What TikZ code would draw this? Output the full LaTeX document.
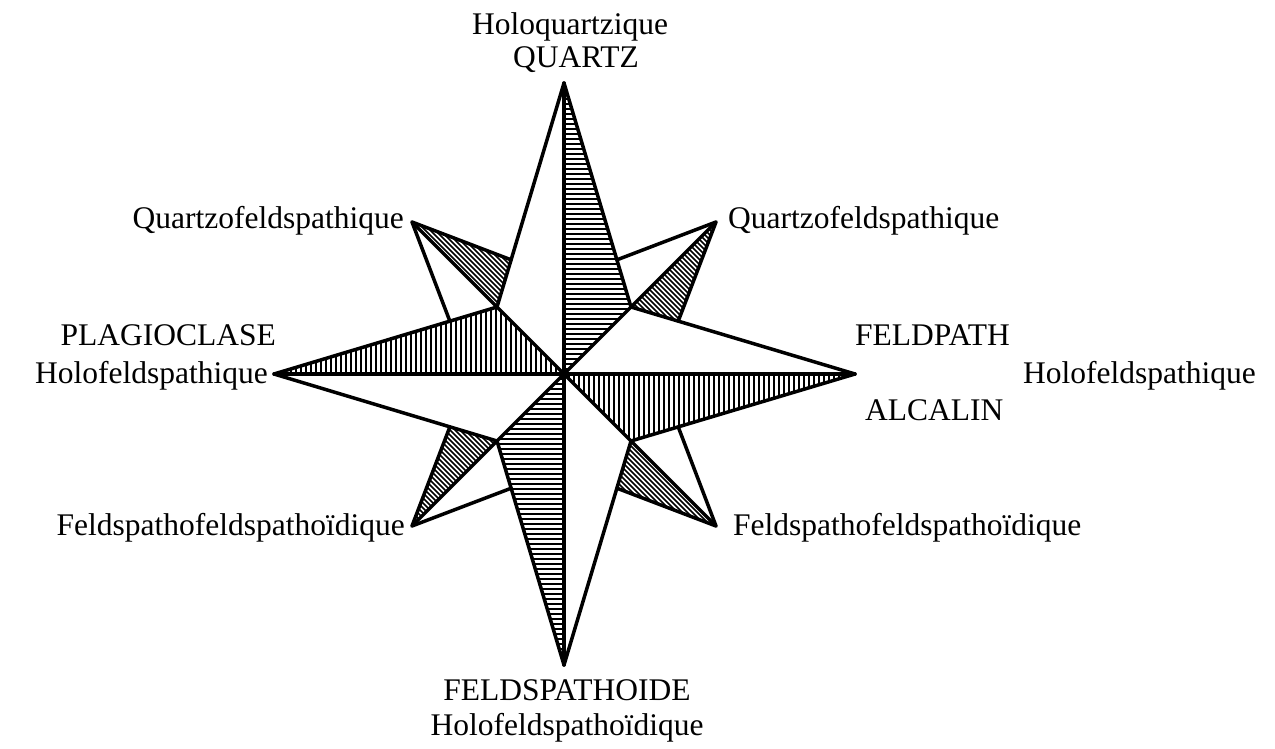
\documentclass[tikz,border=0pt]{standalone}
\usepackage{fontspec}
\setmainfont{Liberation Serif}
\begin{document}
\begin{tikzpicture}[x=1pt,y=-1pt,
  edge/.style={line width=3.5pt, line join=round, line cap=round},
  hatch/.style={line width=1.6pt},
  lbl/.style={font=\fontsize{31.5}{34}\selectfont, inner sep=0pt}]
\useasboundingbox (0,0) rectangle (1275,749);
\fill[white] (0,0) rectangle (1275,749);
% main points
\coordinate (C) at (564,374);
\coordinate (T) at (564,83);
\coordinate (B) at (564,665);
\coordinate (L) at (274,374);
\coordinate (R) at (855,374);
\coordinate (NE) at (716,222);
\coordinate (NW) at (412,222);
\coordinate (SW) at (412,526);
\coordinate (SE) at (716,526);
\coordinate (NEi) at (631,307);
\coordinate (NWi) at (497,307);
\coordinate (SWi) at (497,441);
\coordinate (SEi) at (631,441);
% hidden inner vertices of the diagonal star
\coordinate (H1) at (564,280);
\coordinate (H2) at (658,374);
\coordinate (H3) at (564,468);
\coordinate (H4) at (470,374);
\coordinate (nwA) at (intersection of NW--H1 and T--NWi);
\coordinate (nwB) at (intersection of NW--H4 and L--NWi);
\coordinate (neA) at (intersection of NE--H1 and T--NEi);
\coordinate (neB) at (intersection of NE--H2 and R--NEi);
\coordinate (seA) at (intersection of SE--H2 and R--SEi);
\coordinate (seB) at (intersection of SE--H3 and B--SEi);
\coordinate (swA) at (intersection of SW--H3 and B--SWi);
\coordinate (swB) at (intersection of SW--H4 and L--SWi);
% hatching: main spikes
\begin{scope}
  \clip (T) -- (C) -- (NEi) -- cycle;
  \foreach \y in {84,89,...,374} \draw[hatch] (560,\y) -- (640,\y);
\end{scope}
\begin{scope}
  \clip (B) -- (C) -- (SWi) -- cycle;
  \foreach \y in {374,379,...,665} \draw[hatch] (490,\y) -- (570,\y);
\end{scope}
\begin{scope}
  \clip (L) -- (NWi) -- (C) -- cycle;
  \foreach \x in {276,281,...,564} \draw[hatch] (\x,300) -- (\x,380);
\end{scope}
\begin{scope}
  \clip (R) -- (C) -- (SEi) -- cycle;
  \foreach \x in {564,569,...,855} \draw[hatch] (\x,368) -- (\x,448);
\end{scope}
% hatching: diagonal spikes
\begin{scope}
  \clip (NW) -- (nwA) -- (NWi) -- cycle;
  \foreach \c in {180,185,...,260} \draw[hatch] (200+\c,200) -- (330+\c,330);
\end{scope}
\begin{scope}
  \clip (NE) -- (NEi) -- (neB) -- cycle;
  \foreach \c in {320,325,...,500} \draw[hatch] (200+\c,200) -- (330+\c,330);
\end{scope}
\begin{scope}
  \clip (SE) -- (SEi) -- (seB) -- cycle;
  \foreach \c in {115,120,...,200} \draw[hatch] (420+\c,420) -- (540+\c,540);
\end{scope}
\begin{scope}
  \clip (SW) -- (SWi) -- (swB) -- cycle;
  \foreach \c in {-120,-115,...,60} \draw[hatch] (420+\c,420) -- (540+\c,540);
\end{scope}
% outlines
\draw[edge] (T) -- (NEi) -- (R) -- (SEi) -- (B) -- (SWi) -- (L) -- (NWi) -- cycle;
\draw[edge] (T) -- (B);
\draw[edge] (L) -- (R);
\draw[edge] (NEi) -- (SWi);
\draw[edge] (NWi) -- (SEi);
\draw[edge] (nwA) -- (NW) -- (nwB);
\draw[edge] (NW) -- (NWi);
\draw[edge] (neA) -- (NE) -- (neB);
\draw[edge] (NE) -- (NEi);
\draw[edge] (seA) -- (SE) -- (seB);
\draw[edge] (SE) -- (SEi);
\draw[edge] (swA) -- (SW) -- (swB);
\draw[edge] (SW) -- (SWi);
\fill (C) circle (5);
% labels
\node[lbl, anchor=base] (t1) at (570,35) {Holoquartzique};
\node[lbl, anchor=base] (t2) at (576,68) {QUARTZ};
\node[lbl, anchor=base east] (nwl) at (404,228) {Quartzofeldspathique};
\node[lbl, anchor=base west] (nel) at (728,228) {Quartzofeldspathique};
\node[lbl, anchor=base east] (l1) at (276,345) {PLAGIOCLASE};
\node[lbl, anchor=base east] (l2) at (268,383) {Holofeldspathique};
\node[lbl, anchor=base west] (r1) at (855,345) {FELDPATH};
\node[lbl, anchor=base east] (r2) at (1256,383) {Holofeldspathique};
\node[lbl, anchor=base west] (r3) at (865,420) {ALCALIN};
\node[lbl, anchor=base east] (swl) at (405,535) {Feldspathofeldspathoïdique};
\node[lbl, anchor=base west] (sel) at (733,535) {Feldspathofeldspathoïdique};
\node[lbl, anchor=base] (b1) at (567,700) {FELDSPATHOIDE};
\node[lbl, anchor=base] (b2) at (567,735) {Holofeldspathoïdique};
\end{tikzpicture}
\end{document}
